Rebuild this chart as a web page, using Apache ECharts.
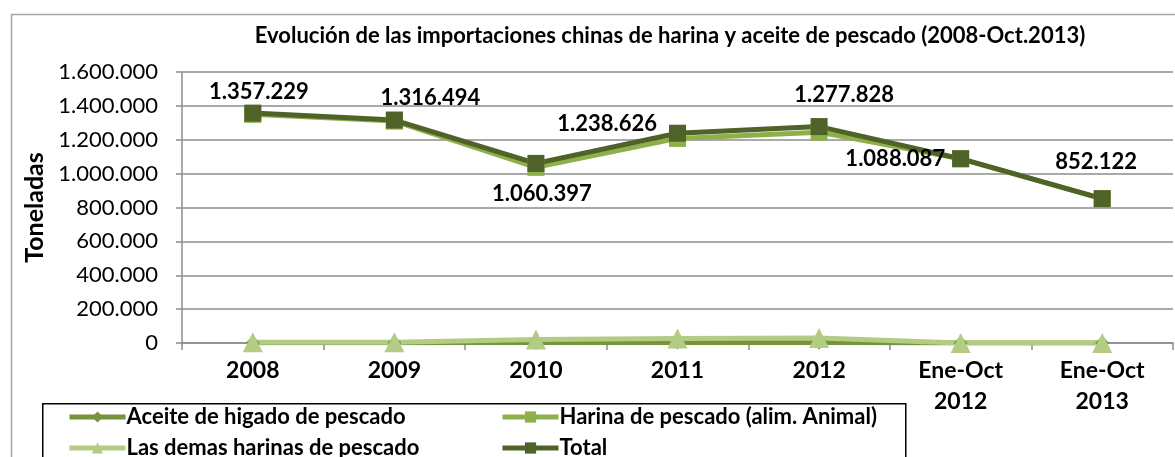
<!DOCTYPE html>
<html lang="es">
<head>
    <meta charset="utf-8">
    <title>Importaciones chinas de harina y aceite de pescado</title>
    <script src="https://cdn.jsdelivr.net/npm/echarts@6/dist/echarts.min.js"></script>
    <style>
        html, body { margin: 0; padding: 0; background: #fff; }
        #chart { width: 1175px; height: 457px; }
    </style>
</head>
<body>
<div id="chart"></div>
<script>
    // datos
    var categorias = ['2008', '2009', '2010', '2011', '2012', 'Ene-Oct\n2012', 'Ene-Oct\n2013'];
    var aceite = [2000, 2000, 3000, 3000, 3000, 500, 500];
    var harina = [1350000, 1310000, 1037000, 1208000, 1245000, 1087500, 851600];
    var demas = [5000, 4000, 20000, 27000, 30000, 0, 0];
    var total = [1357229, 1316494, 1060397, 1238626, 1277828, 1088087, 852122];
    var ticksY = [0, 200000, 400000, 600000, 800000, 1000000, 1200000, 1400000, 1600000];

    var fuente = 'Lato, "Open Sans", sans-serif';

    function miles(v) {
        return String(v).replace(/\B(?=(\d{3})+(?!\d))/g, '.');
    }

    // posicion de cada etiqueta del total
    var posEtiquetas = [
        { position: 'top', offset: [6, 3] },
        { position: 'top', offset: [36, 2] },
        { position: 'bottom', offset: [6, 6] },
        { position: 'left', offset: [-7, -9] },
        { position: 'top', offset: [25, -7] },
        { position: 'left', offset: [-2, 0] },
        { position: 'top', offset: [-6, -12] }
    ];

    // una leyenda por elemento, colocadas en dos columnas
    var leyendas = [
        { name: 'Aceite de higado de pescado', left: 67, top: 406 },
        { name: 'Las demas harinas de pescado', left: 67, top: 437 },
        { name: 'Harina de pescado (alim. Animal)', left: 500, top: 406 },
        { name: 'Total', left: 500, top: 437 }
    ];

    var chart = echarts.init(document.getElementById('chart'));

    var option = {
        backgroundColor: '#fff',
        animation: false,
        title: {
            text: 'Evolución de las importaciones chinas de harina y aceite de pescado (2008-Oct.2013)',
            left: 665,
            textAlign: 'center',
            top: 20,
            textStyle: { fontFamily: fuente, fontWeight: 'bold', fontSize: 22, color: '#000' }
        },
        graphic: [
            {
                type: 'rect', left: 9, top: 12, silent: true, z: -1,
                shape: { width: 1175, height: 460 },
                style: { fill: 'none', stroke: '#a6a6a6', lineWidth: 1.5 }
            },
            {
                type: 'rect', left: 42, top: 403, silent: true,
                shape: { width: 863, height: 70 },
                style: { fill: '#fff', stroke: '#000', lineWidth: 1.5 }
            }
        ],
        legend: leyendas.map(function (l) {
            return {
                left: l.left, top: l.top, padding: 0,
                itemWidth: 56, itemHeight: 14, itemGap: 0,
                data: [l.name],
                lineStyle: { width: 5 },
                textStyle: { fontFamily: fuente, fontWeight: 'bold', fontSize: 22, color: '#000', padding: [0, 0, 0, -4] }
            };
        }),
        grid: { left: 182, right: 2, top: 72, bottom: 114, containLabel: false },
        xAxis: {
            type: 'category',
            data: categorias,
            boundaryGap: true,
            axisLine: { lineStyle: { color: '#8c8c8c', width: 1.5 } },
            axisTick: { show: true, length: 7, lineStyle: { color: '#8c8c8c', width: 1.5 } },
            axisLabel: {
                margin: 12, interval: 0, lineHeight: 31,
                fontFamily: fuente, fontWeight: 'bold', fontSize: 23, color: '#000'
            }
        },
        yAxis: {
            type: 'value',
            min: ticksY[0],
            max: ticksY[ticksY.length - 1],
            interval: 200000,
            name: 'Toneladas',
            nameLocation: 'middle',
            nameGap: 132,
            nameRotate: 90,
            nameTextStyle: { fontFamily: fuente, fontWeight: 'bold', fontSize: 25, color: '#000' },
            axisLine: { show: true, lineStyle: { color: '#8c8c8c', width: 1.5 } },
            axisTick: { show: true, length: 6, lineStyle: { color: '#8c8c8c', width: 1.5 } },
            splitLine: { lineStyle: { color: '#8c8c8c', width: 1.5 } },
            axisLabel: {
                margin: 24,
                fontFamily: fuente, fontSize: 22, color: '#000',
                formatter: function (v) { return miles(v); }
            }
        },
        series: [
            {
                name: 'Aceite de higado de pescado',
                type: 'line',
                data: aceite,
                symbol: 'diamond', symbolSize: 14,
                lineStyle: { width: 5, color: '#77933c' },
                itemStyle: { color: '#77933c' }
            },
            {
                name: 'Harina de pescado (alim. Animal)',
                type: 'line',
                data: harina,
                symbol: 'rect', symbolSize: 17,
                lineStyle: { width: 5, color: '#8db04a' },
                itemStyle: { color: '#8db04a' }
            },
            {
                name: 'Las demas harinas de pescado',
                type: 'line',
                data: demas,
                symbol: 'triangle', symbolSize: 20,
                lineStyle: { width: 5, color: '#b3cc84' },
                itemStyle: { color: '#b3cc84' }
            },
            {
                name: 'Total',
                type: 'line',
                data: total.map(function (v, i) {
                    return { value: v, label: posEtiquetas[i] };
                }),
                symbol: 'rect', symbolSize: 17,
                lineStyle: { width: 5, color: '#4f6228' },
                itemStyle: { color: '#4f6228' },
                label: {
                    show: true,
                    fontFamily: fuente, fontWeight: 'bold', fontSize: 22, color: '#000',
                    formatter: function (p) { return miles(p.value); }
                }
            }
        ]
    };

    chart.setOption(option);
</script>
</body>
</html>
